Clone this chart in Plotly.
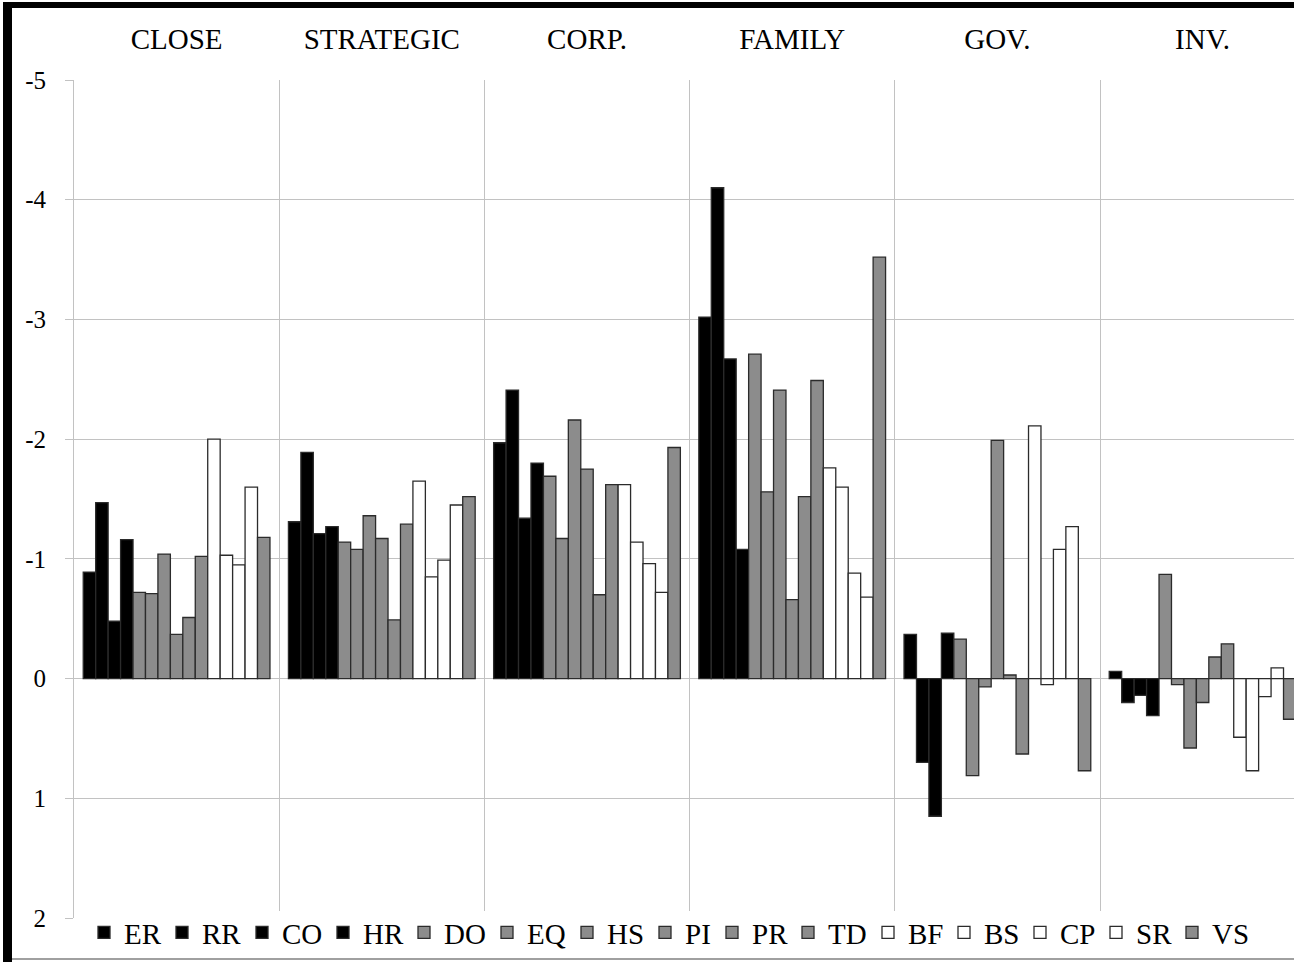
import plotly.graph_objects as go

categories = ["CLOSE", "STRATEGIC", "CORP.", "FAMILY", "GOV.", "INV."]
series_names = ["ER", "RR", "CO", "HR", "DO", "EQ", "HS", "PI", "PR", "TD",
                "BF", "BS", "CP", "SR", "VS"]

ER = [-0.89, -1.31, -1.97, -3.02, -0.37, -0.06]
RR = [-1.47, -1.89, -2.41, -4.10, 0.70, 0.20]
CO = [-0.48, -1.21, -1.34, -2.67, 1.15, 0.14]
HR = [-1.16, -1.27, -1.80, -1.08, -0.38, 0.31]
DO = [-0.72, -1.14, -1.69, -2.71, -0.33, -0.87]
EQ = [-0.71, -1.08, -1.17, -1.56, 0.81, 0.05]
HS = [-1.04, -1.36, -2.16, -2.41, 0.07, 0.58]
PI = [-0.37, -1.17, -1.75, -0.66, -1.99, 0.20]
PR = [-0.51, -0.49, -0.70, -1.52, -0.03, -0.18]
TD = [-1.02, -1.29, -1.62, -2.49, 0.63, -0.29]
BF = [-2.00, -1.65, -1.62, -1.76, -2.11, 0.49]
BS = [-1.03, -0.85, -1.14, -1.60, 0.05, 0.77]
CP = [-0.95, -0.99, -0.96, -0.88, -1.08, 0.15]
SR = [-1.60, -1.45, -0.72, -0.68, -1.27, -0.09]
VS = [-1.18, -1.52, -1.93, -3.52, 0.77, 0.34]

series_values = [ER, RR, CO, HR, DO, EQ, HS, PI, PR, TD, BF, BS, CP, SR, VS]

BLACK, GRAY, WHITE = "#000000", "#8c8c8c", "#ffffff"
series_colors = [BLACK] * 4 + [GRAY] * 6 + [WHITE] * 4 + [GRAY]

y_ticks = [-5, -4, -3, -2, -1, 0, 1, 2]

FONT = "Liberation Serif, Times New Roman, serif"
GRID = "#c2c2c2"
LEG_SIZE = 29
# approximate serif glyph advance widths (em) used to size legend entries
GLYPH_EM = {"A": .722, "B": .667, "C": .667, "D": .722, "E": .611, "F": .556,
            "H": .722, "I": .333, "O": .722, "P": .556, "Q": .722, "R": .667,
            "S": .556, "T": .611, "V": .722}

W, H = 1294, 962
L, R, T, B = 74, 0, 80, 44
pw, ph = W - L - R, H - T - B


def px_x(p):
    return (p - L) / pw


def px_y(p):
    return (H - B - p) / ph


fig = go.Figure()
for name, vals, col in zip(series_names, series_values, series_colors):
    tw = sum(GLYPH_EM.get(ch, 0.6) for ch in name) * LEG_SIZE
    fig.add_trace(go.Bar(
        name=name, x=categories, y=vals,
        marker=dict(color=col, line=dict(color="#2b2b2b", width=1.3)),
        legendwidth=max(1, round(tw - 4)),
    ))

fig.update_layout(
    width=W, height=H,
    margin=dict(l=L, r=R, t=T, b=B, pad=0, autoexpand=False),
    paper_bgcolor="white", plot_bgcolor="white",
    barmode="group", bargap=0.09, bargroupgap=0,
    font=dict(family=FONT, color="black"),
    legend=dict(
        orientation="h", x=px_x(84), xanchor="left",
        y=px_y(907), yanchor="top",
        bgcolor="rgba(0,0,0,0)", font=dict(family=FONT, size=LEG_SIZE, color="black"),
        itemwidth=30, tracegroupgap=0,
    ),
    xaxis=dict(
        type="category", side="top", range=[-0.5, -0.5 + pw / 205.2],
        showgrid=True, gridcolor=GRID, gridwidth=1, tickson="boundaries",
        ticks="", showline=False, zeroline=False,
        tickfont=dict(family=FONT, size=29, color="black"),
        ticklabelstandoff=24,
    ),
    yaxis=dict(
        range=[2, -5], tickvals=y_ticks, ticktext=[str(v) for v in y_ticks],
        showgrid=True, gridcolor=GRID, gridwidth=1,
        zeroline=True, zerolinecolor=GRID, zerolinewidth=1,
        showline=True, linecolor=GRID, linewidth=1,
        ticks="outside", ticklen=8, tickcolor=GRID,
        tickfont=dict(family=FONT, size=25, color="black"),
        ticklabelstandoff=14,
    ),
    shapes=[
        # white band where the legend box sits over the plot's bottom edge
        dict(type="rect", xref="paper", yref="paper",
             x0=px_x(83), x1=px_x(1240), y0=px_y(920), y1=px_y(911),
             fillcolor="white", line=dict(width=0), layer="above"),
        dict(type="rect", xref="paper", yref="paper",
             x0=px_x(3), x1=px_x(12), y0=px_y(962), y1=px_y(2),
             fillcolor="black", line=dict(width=0), layer="above"),
        dict(type="rect", xref="paper", yref="paper",
             x0=px_x(3), x1=px_x(1294), y0=px_y(8), y1=px_y(2),
             fillcolor="black", line=dict(width=0), layer="above"),
        dict(type="line", xref="paper", yref="paper",
             x0=px_x(12), x1=px_x(1294), y0=px_y(959), y1=px_y(959),
             line=dict(color="#a0a0a0", width=2), layer="above"),
    ],
)

fig.write_html(
    "out.html",
    config={"displayModeBar": False},
    post_script="document.body.style.margin='0';document.body.style.overflow='hidden';",
)
